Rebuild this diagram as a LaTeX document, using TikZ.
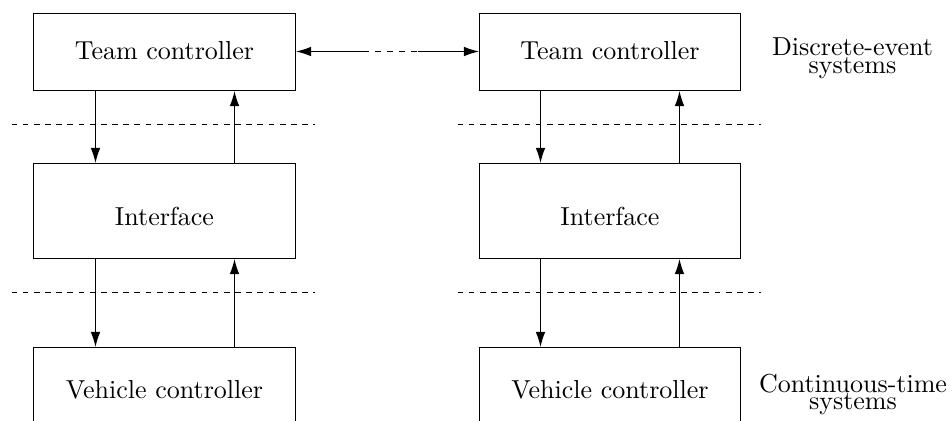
\documentclass[tikz,border=0pt]{standalone}
\usetikzlibrary{arrows.meta}
\begin{document}
\begin{tikzpicture}[x=0.3846pt,y=-0.3846pt,
  box/.style={draw,line width=0.4pt,inner sep=0pt,text depth=0pt,
    font=\normalsize},
  arr/.style={line width=0.4pt,-{Latex[length=5.8pt,width=3.7pt]}},
  sep/.style={line width=0.4pt,dash pattern=on 2.2pt off 2.1pt},
  lab/.style={inner sep=0pt,align=center,font=\fontsize{10}{6.9}\selectfont}]
\useasboundingbox (0,0) rectangle (952,421);
\begin{scope}[shift={(0.5,0.5)}]
% boxes
\node[box,minimum width=100.77pt,minimum height=29.61pt,text height=5.77pt] (tc1) at (164,51.5) {Team controller};
\node[box,minimum width=100.38pt,minimum height=29.61pt,text height=5.77pt] (tc2) at (609.5,51.5) {Team controller};
\node[box,minimum width=100.77pt,minimum height=36.54pt,text height=11.15pt] (if1) at (164,210.5) {Interface};
\node[box,minimum width=100.38pt,minimum height=36.54pt,text height=11.15pt] (if2) at (609.5,210.5) {Interface};
\node[box,minimum width=100.77pt,minimum height=32.31pt,text height=6.92pt] (vc1) at (164,389) {Vehicle controller};
\node[box,minimum width=100.38pt,minimum height=32.31pt,text height=6.92pt] (vc2) at (609.5,389) {Vehicle controller};
% side labels
\node[lab] (de) at (852,58) {Discrete-event\\systems};
\node[lab] (ct) at (852.5,394) {Continuous-time\\systems};
% separators
\coordinate (s1a) at (11,124); \coordinate (s1b) at (314,124);
\coordinate (s2a) at (457,124); \coordinate (s2b) at (760,124);
\coordinate (s3a) at (11,292); \coordinate (s3b) at (314,292);
\coordinate (s4a) at (457,292); \coordinate (s4b) at (760,292);
\draw[sep] (s1a) -- (s1b);
\draw[sep] (s2a) -- (s2b);
\draw[sep] (s3a) -- (s3b);
\draw[sep] (s4a) -- (s4b);
% link between team controllers
\coordinate (m1) at (368,51);
\coordinate (m2) at (417,51);
\draw[arr] (m1) -- (m1 -| tc1.east);
\draw[line width=0.4pt,dash pattern=on 2.31pt off 2.31pt,dash phase=2.31pt] (m1) -- (m2);
\draw[arr] (m2) -- (m2 -| tc2.west);
% vertical arrows, left column
\draw[arr] ([xshift=-26.54pt]tc1.south) -- ([xshift=-26.54pt]if1.north);
\draw[arr] ([xshift=26.92pt]if1.north) -- ([xshift=26.92pt]tc1.south);
\draw[arr] ([xshift=-26.54pt]if1.south) -- ([xshift=-26.54pt]vc1.north);
\draw[arr] ([xshift=26.92pt]vc1.north) -- ([xshift=26.92pt]if1.south);
% vertical arrows, right column
\draw[arr] ([xshift=-26.73pt]tc2.south) -- ([xshift=-26.73pt]if2.north);
\draw[arr] ([xshift=26.73pt]if2.north) -- ([xshift=26.73pt]tc2.south);
\draw[arr] ([xshift=-26.73pt]if2.south) -- ([xshift=-26.73pt]vc2.north);
\draw[arr] ([xshift=26.73pt]vc2.north) -- ([xshift=26.73pt]if2.south);
\end{scope}
\end{tikzpicture}
\end{document}
